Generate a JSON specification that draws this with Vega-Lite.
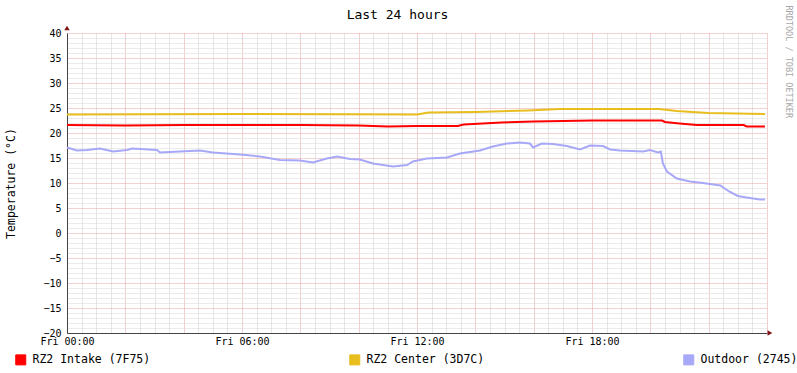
{
  "$schema": "https://vega.github.io/schema/vega-lite/v6.json",
  "width": 700,
  "height": 300,
  "autosize": "none",
  "padding": {"left": 67, "top": 33, "right": 30, "bottom": 40},
  "background": "white",
  "config": {"view": {"stroke": null}, "font": "DejaVu Sans Mono"},
  "data": {"values": [
    {"s": "RZ2 Intake (7F75)", "t": 0, "v": 21.6},
    {"s": "RZ2 Intake (7F75)", "t": 2, "v": 21.5},
    {"s": "RZ2 Intake (7F75)", "t": 4, "v": 21.6},
    {"s": "RZ2 Intake (7F75)", "t": 8, "v": 21.6},
    {"s": "RZ2 Intake (7F75)", "t": 10, "v": 21.5},
    {"s": "RZ2 Intake (7F75)", "t": 11, "v": 21.3},
    {"s": "RZ2 Intake (7F75)", "t": 12, "v": 21.4},
    {"s": "RZ2 Intake (7F75)", "t": 13.4, "v": 21.4},
    {"s": "RZ2 Intake (7F75)", "t": 13.6, "v": 21.7},
    {"s": "RZ2 Intake (7F75)", "t": 14.9, "v": 22.1},
    {"s": "RZ2 Intake (7F75)", "t": 16.0, "v": 22.3},
    {"s": "RZ2 Intake (7F75)", "t": 18.0, "v": 22.5},
    {"s": "RZ2 Intake (7F75)", "t": 20.4, "v": 22.5},
    {"s": "RZ2 Intake (7F75)", "t": 20.5, "v": 22.2},
    {"s": "RZ2 Intake (7F75)", "t": 21.0, "v": 21.9},
    {"s": "RZ2 Intake (7F75)", "t": 21.6, "v": 21.6},
    {"s": "RZ2 Intake (7F75)", "t": 23.2, "v": 21.6},
    {"s": "RZ2 Intake (7F75)", "t": 23.3, "v": 21.3},
    {"s": "RZ2 Intake (7F75)", "t": 23.93, "v": 21.3},
    {"s": "RZ2 Center (3D7C)", "t": 0, "v": 23.7},
    {"s": "RZ2 Center (3D7C)", "t": 6, "v": 23.8},
    {"s": "RZ2 Center (3D7C)", "t": 12, "v": 23.7},
    {"s": "RZ2 Center (3D7C)", "t": 12.4, "v": 24.1},
    {"s": "RZ2 Center (3D7C)", "t": 14, "v": 24.2},
    {"s": "RZ2 Center (3D7C)", "t": 15.8, "v": 24.5},
    {"s": "RZ2 Center (3D7C)", "t": 16.9, "v": 24.8},
    {"s": "RZ2 Center (3D7C)", "t": 20.3, "v": 24.8},
    {"s": "RZ2 Center (3D7C)", "t": 20.9, "v": 24.4},
    {"s": "RZ2 Center (3D7C)", "t": 22, "v": 24.0},
    {"s": "RZ2 Center (3D7C)", "t": 23.93, "v": 23.8},
    {"s": "Outdoor (2745)", "t": 0, "v": 17.1},
    {"s": "Outdoor (2745)", "t": 0.34, "v": 16.5},
    {"s": "Outdoor (2745)", "t": 0.69, "v": 16.6},
    {"s": "Outdoor (2745)", "t": 1.13, "v": 16.9},
    {"s": "Outdoor (2745)", "t": 1.58, "v": 16.3},
    {"s": "Outdoor (2745)", "t": 2.06, "v": 16.6},
    {"s": "Outdoor (2745)", "t": 2.23, "v": 16.9},
    {"s": "Outdoor (2745)", "t": 3.09, "v": 16.6},
    {"s": "Outdoor (2745)", "t": 3.19, "v": 16.1},
    {"s": "Outdoor (2745)", "t": 3.87, "v": 16.3},
    {"s": "Outdoor (2745)", "t": 4.56, "v": 16.5},
    {"s": "Outdoor (2745)", "t": 5.0, "v": 16.1},
    {"s": "Outdoor (2745)", "t": 5.93, "v": 15.7},
    {"s": "Outdoor (2745)", "t": 6.62, "v": 15.3},
    {"s": "Outdoor (2745)", "t": 7.3, "v": 14.6},
    {"s": "Outdoor (2745)", "t": 7.99, "v": 14.5},
    {"s": "Outdoor (2745)", "t": 8.43, "v": 14.1},
    {"s": "Outdoor (2745)", "t": 8.91, "v": 14.9},
    {"s": "Outdoor (2745)", "t": 9.26, "v": 15.3},
    {"s": "Outdoor (2745)", "t": 9.7, "v": 14.8},
    {"s": "Outdoor (2745)", "t": 10.04, "v": 14.7},
    {"s": "Outdoor (2745)", "t": 10.49, "v": 13.9},
    {"s": "Outdoor (2745)", "t": 11.18, "v": 13.3},
    {"s": "Outdoor (2745)", "t": 11.66, "v": 13.6},
    {"s": "Outdoor (2745)", "t": 11.86, "v": 14.3},
    {"s": "Outdoor (2745)", "t": 12.34, "v": 14.9},
    {"s": "Outdoor (2745)", "t": 13.03, "v": 15.1},
    {"s": "Outdoor (2745)", "t": 13.47, "v": 15.9},
    {"s": "Outdoor (2745)", "t": 14.16, "v": 16.5},
    {"s": "Outdoor (2745)", "t": 14.6, "v": 17.3},
    {"s": "Outdoor (2745)", "t": 15.08, "v": 17.9},
    {"s": "Outdoor (2745)", "t": 15.53, "v": 18.1},
    {"s": "Outdoor (2745)", "t": 15.87, "v": 17.9},
    {"s": "Outdoor (2745)", "t": 15.98, "v": 17.1},
    {"s": "Outdoor (2745)", "t": 16.28, "v": 17.9},
    {"s": "Outdoor (2745)", "t": 16.66, "v": 17.8},
    {"s": "Outdoor (2745)", "t": 17.14, "v": 17.4},
    {"s": "Outdoor (2745)", "t": 17.59, "v": 16.7},
    {"s": "Outdoor (2745)", "t": 17.93, "v": 17.5},
    {"s": "Outdoor (2745)", "t": 18.38, "v": 17.4},
    {"s": "Outdoor (2745)", "t": 18.62, "v": 16.7},
    {"s": "Outdoor (2745)", "t": 18.96, "v": 16.5},
    {"s": "Outdoor (2745)", "t": 19.75, "v": 16.3},
    {"s": "Outdoor (2745)", "t": 19.99, "v": 16.6},
    {"s": "Outdoor (2745)", "t": 20.26, "v": 16.1},
    {"s": "Outdoor (2745)", "t": 20.36, "v": 16.3},
    {"s": "Outdoor (2745)", "t": 20.43, "v": 13.9},
    {"s": "Outdoor (2745)", "t": 20.57, "v": 12.3},
    {"s": "Outdoor (2745)", "t": 20.91, "v": 10.9},
    {"s": "Outdoor (2745)", "t": 21.36, "v": 10.3},
    {"s": "Outdoor (2745)", "t": 21.8, "v": 10.0},
    {"s": "Outdoor (2745)", "t": 22.4, "v": 9.5},
    {"s": "Outdoor (2745)", "t": 22.7, "v": 8.3},
    {"s": "Outdoor (2745)", "t": 23.0, "v": 7.4},
    {"s": "Outdoor (2745)", "t": 23.3, "v": 7.1},
    {"s": "Outdoor (2745)", "t": 23.76, "v": 6.7},
    {"s": "Outdoor (2745)", "t": 23.93, "v": 6.7}
  ]},
  "resolve": {"axis": {"x": "independent", "y": "independent"}},
  "layer": [
    {
      "mark": {"type": "line", "strokeWidth": 2, "interpolate": "linear"},
      "encoding": {
        "x": {"field": "t", "type": "quantitative",
          "scale": {"domain": [0, 24], "nice": false, "zero": false},
          "axis": {
            "orient": "bottom",
            "values": [0,0.5,1,1.5,2,2.5,3,3.5,4,4.5,5,5.5,6,6.5,7,7.5,8,8.5,9,9.5,10,10.5,11,11.5,12,12.5,13,13.5,14,14.5,15,15.5,16,16.5,17,17.5,18,18.5,19,19.5,20,20.5,21,21.5,22,22.5,23,23.5,24],
            "labelExpr": "datum.value % 6 == 0 && datum.value < 24 ? 'Fri ' + (datum.value < 10 ? '0' : '') + datum.value + ':00' : ''",
            "grid": true,
            "gridColor": {"condition": {"test": "datum.value % 2 == 0", "value": "#e2a0a0"}, "value": "#cccccc"},
            "gridDash": [1, 1],
            "gridWidth": 1,
            "ticks": false,
            "domainColor": "#444444",
            "labelFont": "DejaVu Sans Mono",
            "labelFontSize": 10,
            "labelColor": "#000",
            "labelPadding": 3,
            "labelOverlap": false,
            "labelFlush": false,
            "title": null
          }
        },
        "y": {"field": "v", "type": "quantitative",
          "scale": {"domain": [-20, 40], "nice": false, "zero": false},
          "axis": {
            "orient": "left",
            "values": [-20,-19,-18,-17,-16,-15,-14,-13,-12,-11,-10,-9,-8,-7,-6,-5,-4,-3,-2,-1,0,1,2,3,4,5,6,7,8,9,10,11,12,13,14,15,16,17,18,19,20,21,22,23,24,25,26,27,28,29,30,31,32,33,34,35,36,37,38,39,40],
            "labelExpr": "datum.value % 5 == 0 ? datum.label : ''",
            "grid": true,
            "gridColor": {"condition": {"test": "datum.value % 5 == 0", "value": "#e6a4a4"}, "value": "#d6d6d6"},
            "gridDash": [1, 1],
            "gridWidth": 1,
            "ticks": false,
            "domainColor": "#444444",
            "labelFont": "DejaVu Sans Mono",
            "labelFontSize": 10,
            "labelColor": "#000",
            "labelPadding": 6,
            "labelOverlap": false,
            "labelFlush": false,
            "title": "Temperature (°C)",
            "titleFont": "DejaVu Sans Mono",
            "titleFontSize": 11.5,
            "titleFontWeight": "normal",
            "titleColor": "#000",
            "titlePadding": 26
          }
        },
        "color": {"field": "s", "type": "nominal",
          "scale": {"domain": ["RZ2 Intake (7F75)", "RZ2 Center (3D7C)", "Outdoor (2745)"], "range": ["#ff0000", "#e8be1e", "#a8a8f8"]},
          "legend": {
            "orient": "none", "legendX": -52, "legendY": 321,
            "direction": "horizontal", "columns": 3, "columnPadding": 196,
            "symbolType": "square", "symbolSize": 100,
            "labelFont": "DejaVu Sans Mono", "labelFontSize": 11.5, "labelColor": "#000", "labelOffset": 6, "labelLimit": 0,
            "title": null,
            "encode": {"symbols": {"update": {"fill": {"scale": "color", "field": "value"}, "fillOpacity": {"value": 1}, "stroke": {"value": "#000"}, "strokeWidth": {"value": 1}}}}
          }
        }
      }
    },
    {
      "data": {"values": [{}]},
      "mark": {"type": "point", "shape": "triangle-up", "filled": true, "color": "#7f1414", "opacity": 1, "size": 30},
      "encoding": {
        "x": {"datum": 0, "type": "quantitative", "scale": {"domain": [0, 24], "nice": false, "zero": false}, "axis": null},
        "y": {"datum": 41, "type": "quantitative", "scale": {"domain": [-20, 40], "nice": false, "zero": false},
          "axis": {"orient": "right", "title": "RRDTOOL / TOBI OETIKER", "labels": false, "ticks": false, "domain": false, "grid": false,
            "titleAngle": 90, "titleX": 21, "titleY": -28, "titleAlign": "left", "titleBaseline": "middle",
            "titleFont": "DejaVu Sans Mono", "titleFontSize": 8.5, "titleFontWeight": "normal", "titleColor": "#a8a8a8"}}
      }
    },
    {
      "data": {"values": [{}]},
      "mark": {"type": "point", "shape": "triangle-right", "filled": true, "color": "#7f1414", "opacity": 1, "size": 30},
      "encoding": {
        "x": {"datum": 24.1, "type": "quantitative", "scale": {"domain": [0, 24], "nice": false, "zero": false},
          "axis": {"orient": "top", "title": "Last 24 hours", "labels": false, "ticks": false, "domain": false, "grid": false,
            "titleX": 330, "titleY": -15, "titleAlign": "center", "titleBaseline": "alphabetic", "titleAngle": 0,
            "titleFont": "DejaVu Sans Mono", "titleFontSize": 13, "titleFontWeight": "normal", "titleColor": "#000"}},
        "y": {"datum": -20, "type": "quantitative", "scale": {"domain": [-20, 40], "nice": false, "zero": false}, "axis": null}
      }
    }
  ]
}
